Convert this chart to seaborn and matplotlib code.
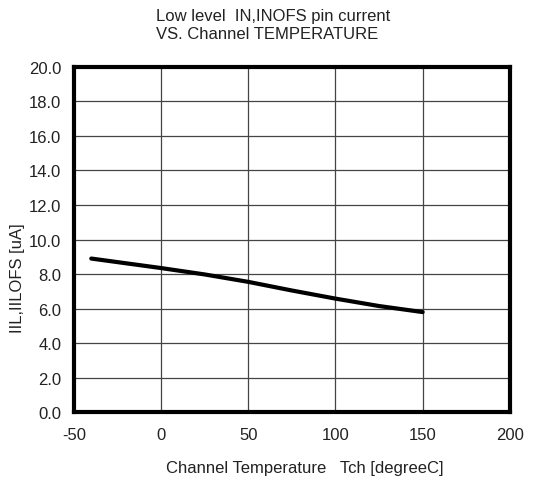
import numpy as np
import pandas as pd
import matplotlib
matplotlib.use("Agg")
import matplotlib.pyplot as plt
import seaborn as sns

# ----------------- Data -----------------
temp_c = [-40, 0, 25, 50, 75, 100, 125, 150]
iil_ua = [8.90, 8.35, 7.98, 7.55, 7.05, 6.58, 6.15, 5.80]
x_ticks = [-50, 0, 50, 100, 150, 200]
y_ticks = [0, 2, 4, 6, 8, 10, 12, 14, 16, 18, 20]

df = pd.DataFrame({"Tch": temp_c, "IIL": iil_ua})

sns.set_theme(style="white")
plt.rcParams['font.family'] = ['Liberation Sans', 'DejaVu Sans']
plt.rcParams['axes.unicode_minus'] = False

fig = plt.figure(figsize=(5.35, 4.85), dpi=100)
ax = fig.add_axes([0.138, 0.148, 0.815, 0.712])

sns.lineplot(data=df, x="Tch", y="IIL", ax=ax, color="black", linewidth=3.0)

ax.set_xlim(-50, 200)
ax.set_ylim(0, 20)
ax.set_xticks(x_ticks)
ax.set_yticks(y_ticks)
ax.set_yticklabels([f"{v:.1f}" for v in y_ticks])
ax.tick_params(axis='both', labelsize=12, length=0, colors='#222222')
ax.tick_params(axis='x', pad=11)
ax.tick_params(axis='y', pad=9)
ax.grid(True, color='#444444', linewidth=0.9)
for sp in ax.spines.values():
    sp.set_color('black')
    sp.set_linewidth(3.0)

ax.set_xlabel('Channel Temperature   Tch [degreeC]', fontsize=12, color='#222222')
ax.xaxis.set_label_coords(0.53, -0.138)
ax.set_ylabel('IIL,IILOFS [uA]', fontsize=12, color='#222222')
ax.yaxis.set_label_coords(-0.112, 0.39)
fig.text(0.51, 0.947, 'Low level  IN,INOFS pin current\nVS. Channel TEMPERATURE',
         ha='center', va='center', fontsize=12, color='#222222', linespacing=1.22,
         multialignment='left')

plt.savefig('out.png', dpi=100)
plt.close()
